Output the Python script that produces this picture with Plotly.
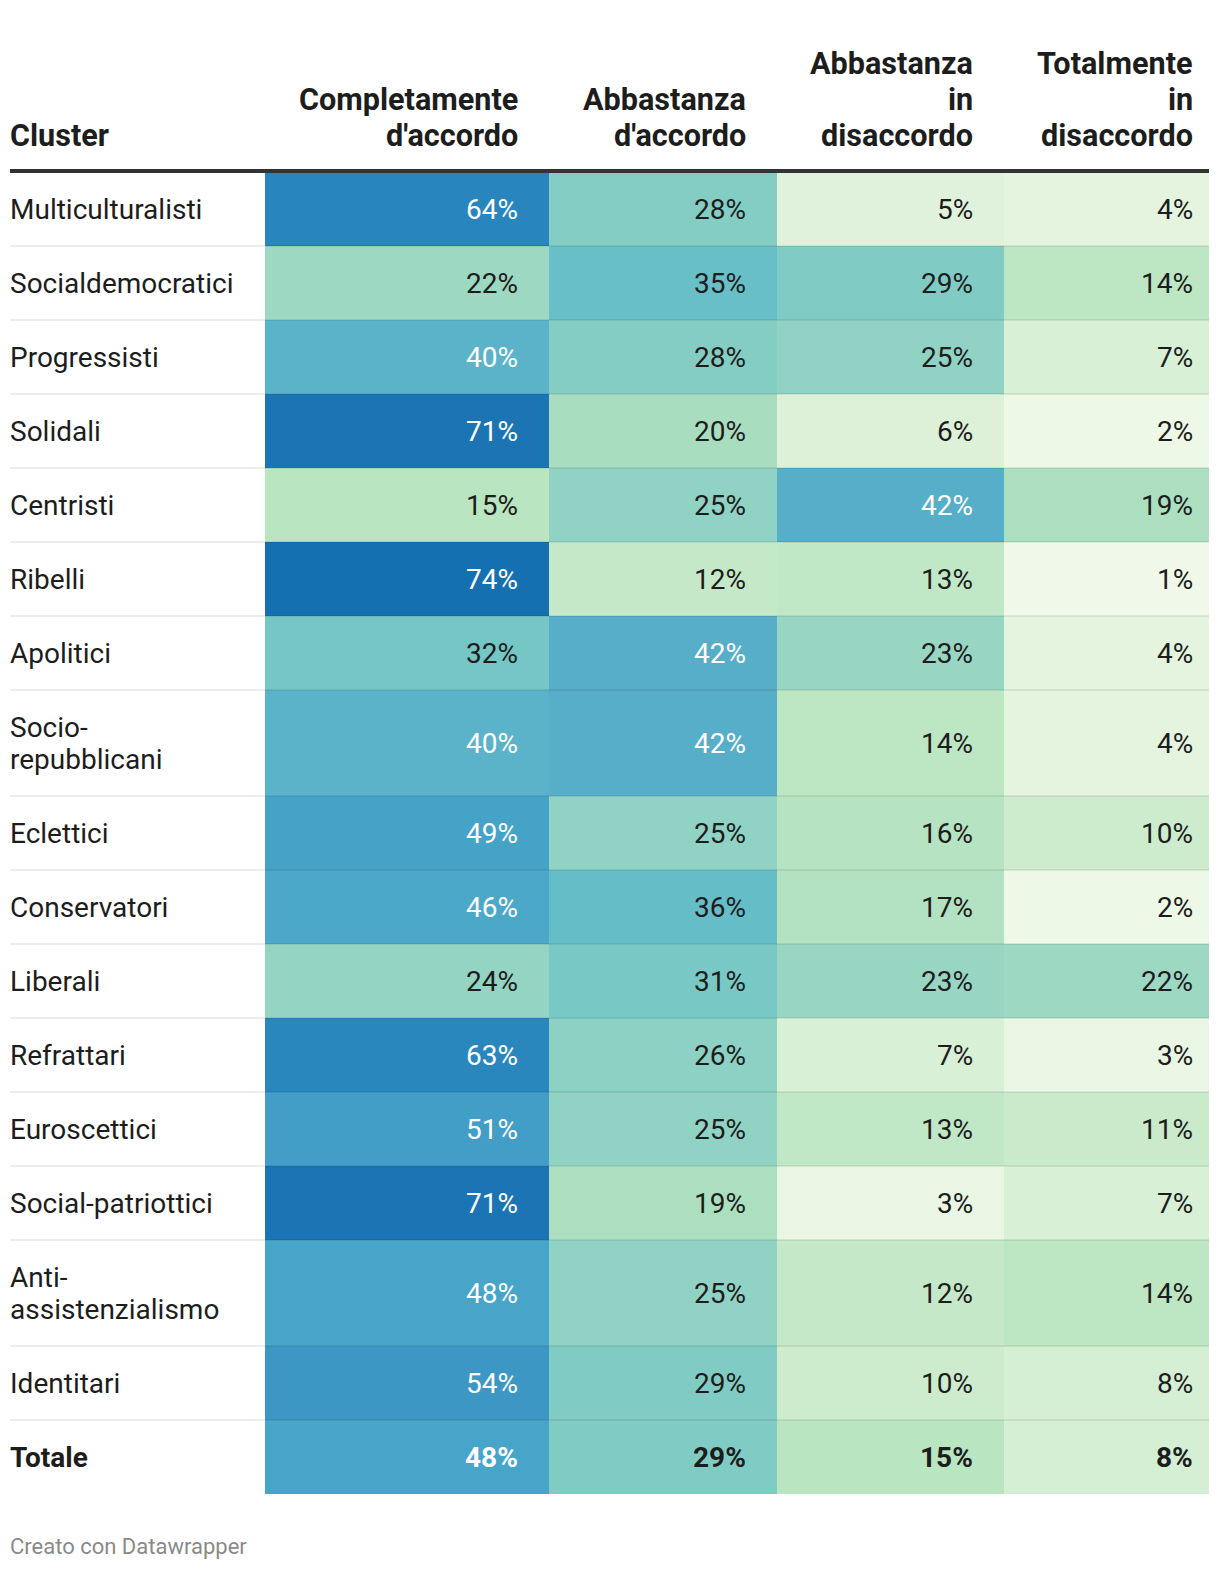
import plotly.graph_objects as go

# ---------------- data ----------------
clusters = ["Multiculturalisti", "Socialdemocratici", "Progressisti", "Solidali",
            "Centristi", "Ribelli", "Apolitici", "Socio-<br>repubblicani", "Eclettici",
            "Conservatori", "Liberali", "Refrattari", "Euroscettici",
            "Social-patriottici", "Anti-<br>assistenzialismo", "Identitari", "Totale"]
columns = ["Completamente<br>d'accordo", "Abbastanza<br>d'accordo",
           "Abbastanza<br>in<br>disaccordo", "Totalmente<br>in<br>disaccordo"]
completamente = [64, 22, 40, 71, 15, 74, 32, 40, 49, 46, 24, 63, 51, 71, 48, 54, 48]
abbastanza_acc = [28, 35, 28, 20, 25, 12, 42, 42, 25, 36, 31, 26, 25, 19, 25, 29, 29]
abbastanza_dis = [5, 29, 25, 6, 42, 13, 23, 14, 16, 17, 23, 7, 13, 3, 12, 10, 15]
totalmente_dis = [4, 14, 7, 2, 19, 1, 4, 4, 10, 2, 22, 3, 11, 7, 14, 8, 8]

# ---------------- styles ----------------
FONT = "Roboto"
BODY = 28
HEAD = 30.6
col_edges = [265, 549, 777, 1004, 1209]          # pixel layout of columns
label_x = 8
line_x0 = 10
top = 172
single_h, double_h = 74, 106
body_line = 32
head_line = 36
head_last_y = 135
OFF = 8  # page body margin compensation
color_stops = [(1, "#f0f9e9"), (3, "#e9f6e3"), (5, "#e0f2db"), (8, "#d4efd3"),
               (12, "#c5e9c8"), (15, "#b9e5c1"), (20, "#a8ddc0"), (23, "#98d6c3"),
               (28, "#84cdc4"), (32, "#74c7c5"), (35, "#68bfc8"), (42, "#56aec9"),
               (48, "#47a5c9"), (54, "#3c97c4"), (63, "#2a87be"), (71, "#1b75b4"),
               (74, "#1570b1")]
zmin, zmax = color_stops[0][0], color_stops[-1][0]
colorscale = [[(v - zmin) / (zmax - zmin), c] for v, c in color_stops]

series = [completamente, abbastanza_acc, abbastanza_dis, totalmente_dis]
n = len(clusters)

row_edges = [top]
for lab in clusters:
    row_edges.append(row_edges[-1] + (double_h if "<br>" in lab else single_h))

z = [[series[j][i] for j in range(4)] for i in range(n)]

fig = go.Figure()
fig.add_trace(go.Heatmap(
    x=col_edges, y=row_edges, z=z, zmin=zmin, zmax=zmax,
    colorscale=colorscale, showscale=False, hoverinfo="skip", xgap=0, ygap=0))

annotations = []
DARK = "#1d1d1d"


def lines_at(text, x, yc, spacing, xanchor, font, bold=False, bottom=False):
    parts = text.split("<br>")
    k = len(parts)
    for idx, p in enumerate(parts):
        if bottom:
            y = yc - (k - 1 - idx) * spacing
        else:
            y = yc + (idx - (k - 1) / 2) * spacing
        annotations.append(dict(x=x, y=y, text=("<b>%s</b>" % p) if bold else p,
                                xanchor=xanchor, yanchor="middle", showarrow=False,
                                font=font))


# header
hfont = dict(family=FONT, size=HEAD, color=DARK)
lines_at("Cluster", label_x, head_last_y, head_line, "left", hfont, bold=True, bottom=True)
pads = [29, 29, 29, 14]
for j, col in enumerate(columns):
    lines_at(col, col_edges[j + 1] - pads[j], head_last_y, head_line, "right", hfont,
             bold=True, bottom=True)

shapes = []
for i, lab in enumerate(clusters):
    yc = (row_edges[i] + row_edges[i + 1]) / 2
    bold = lab == "Totale"
    lines_at(lab, label_x, yc, body_line, "left", dict(family=FONT, size=BODY, color=DARK), bold=bold)
    for j in range(4):
        v = series[j][i]
        txt = "%d%%" % v
        if bold:
            txt = "<b>%s</b>" % txt
        annotations.append(dict(x=col_edges[j + 1] - pads[j], y=yc, text=txt,
                                xanchor="right", yanchor="middle", showarrow=False,
                                font=dict(family=FONT, size=BODY,
                                          color="#ffffff" if v >= 38 else DARK)))
    if i < n - 1:
        shapes.append(dict(type="line", x0=line_x0, x1=col_edges[-1],
                           y0=row_edges[i + 1], y1=row_edges[i + 1],
                           line=dict(color="rgba(0,0,0,0.07)", width=2)))

shapes.append(dict(type="line", x0=line_x0, x1=col_edges[-1], y0=171, y1=171,
                   line=dict(color="#333333", width=4)))

annotations.append(dict(x=label_x, y=1546, text="Creato con Datawrapper", xanchor="left",
                        yanchor="middle", showarrow=False,
                        font=dict(family=FONT, size=22, color="#8a8a8a")))

fig.update_layout(
    width=1220, height=1570, margin=dict(l=0, r=0, t=0, b=0),
    paper_bgcolor="white", plot_bgcolor="white",
    xaxis=dict(range=[OFF, 1220 + OFF], visible=False, fixedrange=True),
    yaxis=dict(range=[1570 + OFF, OFF], visible=False, fixedrange=True),
    annotations=annotations, shapes=shapes, showlegend=False)

fig.write_html("out.html", config={"displayModeBar": False})
